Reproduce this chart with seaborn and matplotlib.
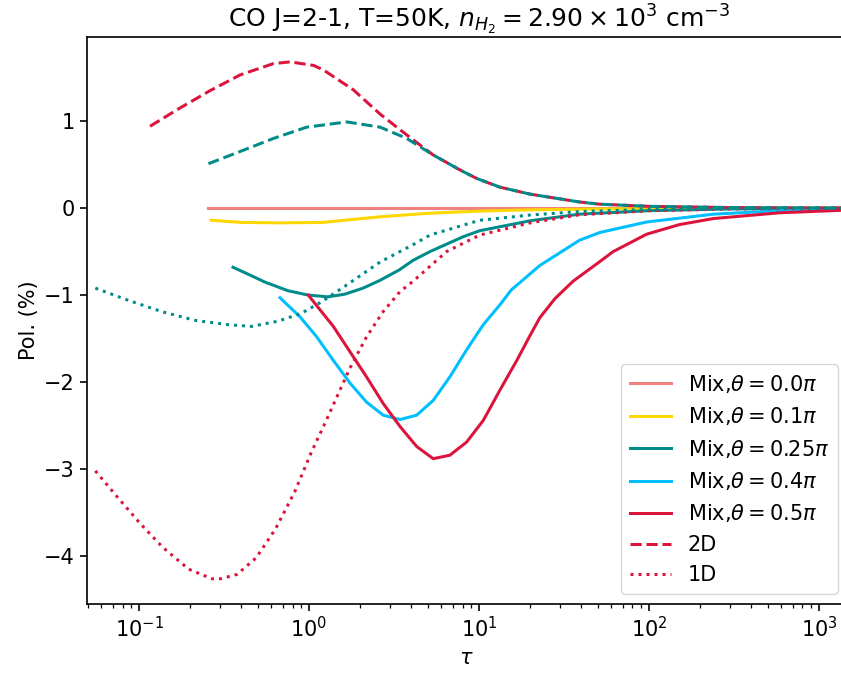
import numpy as np
import pandas as pd
import matplotlib
matplotlib.use("Agg")
import matplotlib.pyplot as plt
import seaborn as sns

# ---------------- data ----------------
tau_m00 = [0.255, 1500]
pol_m00 = [0.0, 0.0]

tau_m01 = [0.265, 0.4, 0.67, 1.2, 2.62, 5, 10, 20, 39, 100, 300, 1500]
pol_m01 = [-0.14, -0.165, -0.17, -0.165, -0.10, -0.06, -0.035, -0.02, -0.013, -0.006, -0.002, 0.0]

tau_m025 = [0.357, 0.45, 0.549, 0.753, 0.99, 1.29, 1.62, 2.08, 2.62, 3.4, 4.1, 5.15, 8.06, 10.1, 20, 39, 100, 300, 1500]
pol_m025 = [-0.68, -0.77, -0.85, -0.95, -1.0, -1.02, -0.99, -0.92, -0.83, -0.71, -0.60, -0.50, -0.33, -0.26, -0.146, -0.07, -0.03, -0.01, -0.002]

tau_m04 = [0.675, 0.885, 1.11, 1.39, 1.74, 2.18, 2.73, 3.43, 4.3, 5.38, 6.74, 8.45, 10.6, 13.3, 15.5, 22.8, 39, 51.5, 97, 240, 590, 1500]
pol_m04 = [-1.03, -1.25, -1.48, -1.75, -2.01, -2.23, -2.38, -2.43, -2.38, -2.21, -1.94, -1.63, -1.34, -1.11, -0.94, -0.66, -0.37, -0.28, -0.16, -0.07, -0.03, -0.013]

tau_m05 = [0.99, 1.39, 1.74, 2.18, 2.73, 3.43, 4.3, 5.38, 6.74, 8.45, 10.6, 13.3, 16.7, 19.9, 22.8, 28, 35.8, 51, 61.6, 97, 151, 240, 590, 1500]
pol_m05 = [-1.0, -1.36, -1.65, -1.94, -2.245, -2.51, -2.74, -2.88, -2.84, -2.69, -2.44, -2.09, -1.75, -1.47, -1.26, -1.04, -0.84, -0.62, -0.50, -0.30, -0.19, -0.12, -0.054, -0.022]

tau_2d_r = [0.116, 0.174, 0.262, 0.393, 0.617, 0.773, 1.06, 1.21, 1.82, 2.62, 3.76, 5.38, 7.7, 9.7, 13.3, 20, 39, 51, 100, 300, 1500]
pol_2d_r = [0.94, 1.15, 1.35, 1.53, 1.66, 1.68, 1.64, 1.59, 1.36, 1.08, 0.84, 0.61, 0.44, 0.34, 0.24, 0.16, 0.07, 0.045, 0.02, 0.006, 0.001]

tau_2d_t = [0.256, 0.393, 0.617, 0.969, 1.67, 2.62, 3.76, 5.38, 7.7, 9.7, 13.3, 20, 39, 51, 100, 300, 1500]
pol_2d_t = [0.51, 0.65, 0.80, 0.93, 0.99, 0.93, 0.80, 0.61, 0.44, 0.34, 0.24, 0.16, 0.07, 0.045, 0.02, 0.006, 0.001]

tau_1d_t = [0.0553, 0.0864, 0.136, 0.213, 0.334, 0.458, 0.657, 0.90, 1.18, 1.62, 2.62, 4.1, 5.15, 10.1, 20, 39, 100, 300, 1500]
pol_1d_t = [-0.92, -1.06, -1.19, -1.29, -1.34, -1.36, -1.30, -1.21, -1.08, -0.90, -0.62, -0.42, -0.31, -0.14, -0.08, -0.04, -0.015, -0.005, -0.001]

tau_1d_r = [0.0553, 0.0745, 0.101, 0.138, 0.196, 0.269, 0.302, 0.377, 0.488, 0.634, 0.824, 1.03, 1.25, 1.39, 1.74, 2.18, 2.73, 3.43, 4.1, 6.45, 10.1, 20, 39, 100, 300, 1500]
pol_1d_r = [-3.02, -3.32, -3.62, -3.90, -4.15, -4.26, -4.26, -4.21, -4.02, -3.69, -3.26, -2.81, -2.46, -2.26, -1.84, -1.48, -1.19, -0.96, -0.84, -0.50, -0.31, -0.17, -0.077, -0.03, -0.01, -0.002]

mix_labels = [r"Mix,$\theta=0.0\pi$", r"Mix,$\theta=0.1\pi$", r"Mix,$\theta=0.25\pi$",
              r"Mix,$\theta=0.4\pi$", r"Mix,$\theta=0.5\pi$"]

# ---------------- style ----------------
s = 1.5
plt.rcParams.update({
    "font.family": ["DejaVu Sans"],
    "font.size": 10 * s,
    "axes.linewidth": 0.8 * s,
    "xtick.major.size": 3.5 * s, "ytick.major.size": 3.5 * s,
    "xtick.minor.size": 2 * s, "ytick.minor.size": 2 * s,
    "xtick.major.width": 0.8 * s, "ytick.major.width": 0.8 * s,
    "xtick.minor.width": 0.6 * s, "ytick.minor.width": 0.6 * s,
    "lines.linewidth": 1.5 * s,
    "legend.fontsize": 10 * s,
    "axes.titlesize": 12 * s,
    "axes.labelsize": 10 * s,
    "xtick.labelsize": 10 * s, "ytick.labelsize": 10 * s,
})

fig = plt.figure(figsize=(8.41, 6.73), dpi=100)
# the right spine of the original lies just outside the cropped image
ax = fig.add_axes([87 / 841, 69 / 673, 761 / 841, 567 / 673])

lw = 1.45 * s
series = [
    (tau_m00, pol_m00, "lightcoral", "-", mix_labels[0]),
    (tau_m01, pol_m01, "gold", "-", mix_labels[1]),
    (tau_m025, pol_m025, "darkcyan", "-", mix_labels[2]),
    (tau_m04, pol_m04, "deepskyblue", "-", mix_labels[3]),
    (tau_m05, pol_m05, "crimson", "-", mix_labels[4]),
    (tau_2d_r, pol_2d_r, "crimson", "--", "2D"),
    (tau_1d_r, pol_1d_r, "crimson", ":", "1D"),
    (tau_2d_t, pol_2d_t, "darkcyan", "--", None),
    (tau_1d_t, pol_1d_t, "darkcyan", ":", None),
]

for tx, py, c, ls, lab in series:
    df = pd.DataFrame({"tau": tx, "pol": py})
    sns.lineplot(data=df, x="tau", y="pol", ax=ax, color=c, linestyle=ls,
                 linewidth=lw, estimator=None, label=lab, legend=False)

ax.set_xscale("log")
ax.set_xlim(0.0494, 1483)
ax.set_ylim(-4.55, 1.966)
ax.set_yticks([-4, -3, -2, -1, 0, 1])
ax.set_xlabel(r"$\tau$")
ax.set_ylabel("Pol. (%)")
ax.set_title(r"CO J=2-1, T=50K, $n_{H_2}=2.90\times10^3$ cm$^{-3}$", x=(479 - 87) / 761)
ax.xaxis.set_label_coords((466 - 87) / 761, -0.077)

handles, labels = ax.get_legend_handles_labels()
ax.legend(handles, labels, loc="lower right")

fig.savefig("out.png", dpi=100)
